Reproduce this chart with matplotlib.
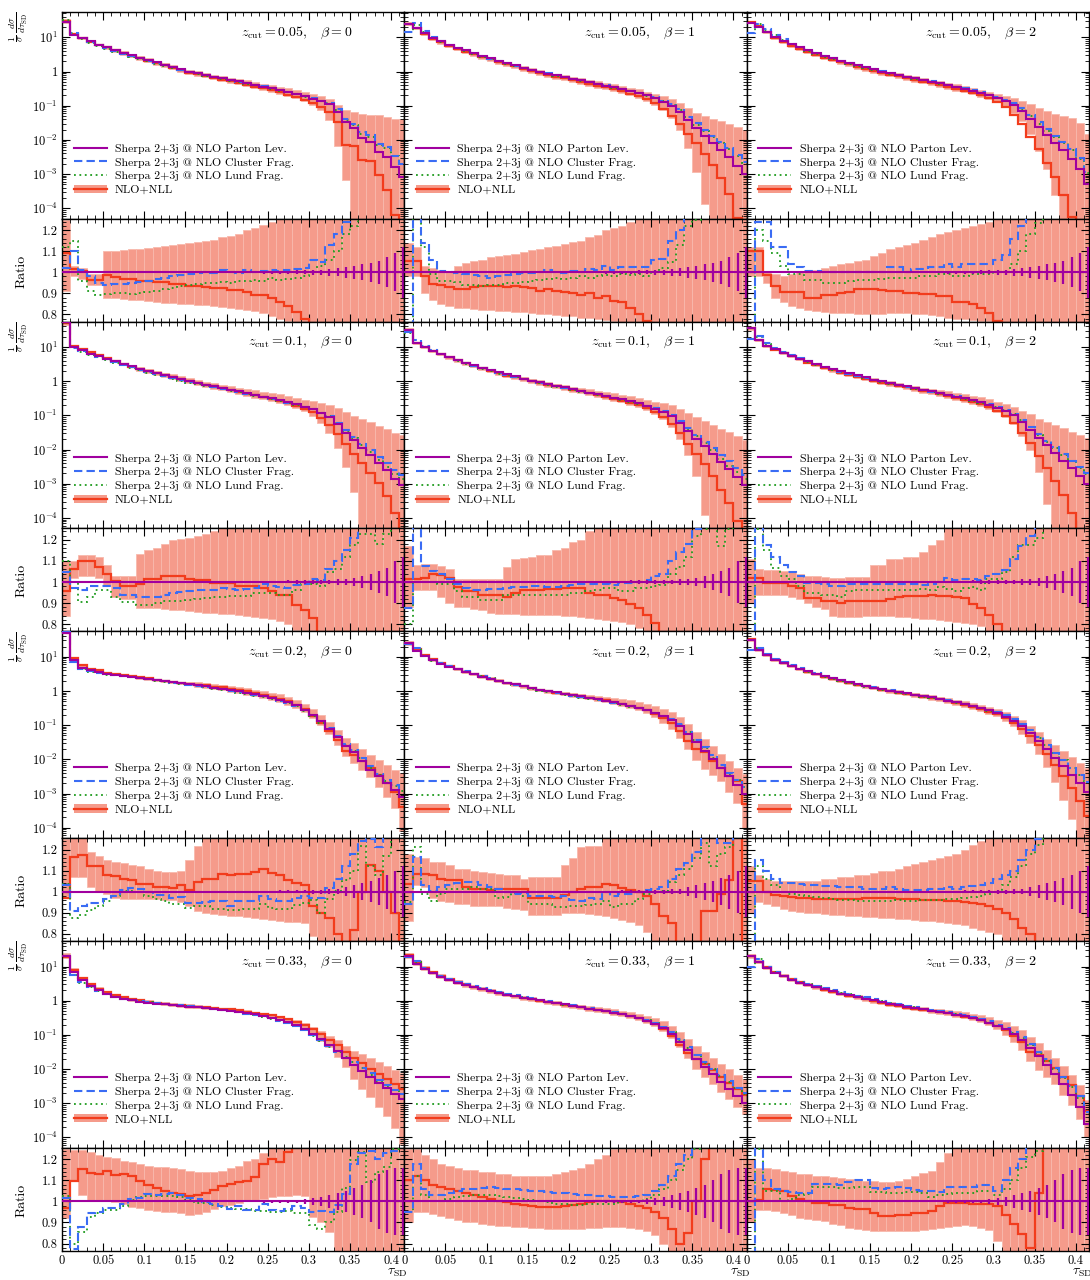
# Soft-drop tau_SD distributions: Sherpa vs NLO+NLL, 4 z_cut rows x 3 beta columns

import matplotlib.pyplot as plt
import numpy as np
from matplotlib.ticker import MultipleLocator, LogLocator, NullFormatter
from matplotlib.lines import Line2D
from matplotlib.patches import Patch

plt.rcParams['mathtext.fontset'] = 'cm'
plt.rcParams['font.family'] = ['cmr10', 'DejaVu Serif']
plt.rcParams['axes.formatter.use_mathtext'] = True

z_cuts = ["0.05", "0.1", "0.2", "0.33"]
betas = ["0", "1", "2"]
edges = np.linspace(0.0, 0.42, 43)   # 0.01 wide bins

x_ticks = [0, 0.05, 0.1, 0.15, 0.2, 0.25, 0.3, 0.35, 0.4]
x_tick_labels = ["0", "0.05", "0.1", "0.15", "0.2", "0.25", "0.3", "0.35", "0.4"]
main_ticks = [1e1, 1, 1e-1, 1e-2, 1e-3, 1e-4]
main_tick_labels = [r"$10^{1}$", "1", r"$10^{-1}$", r"$10^{-2}$", r"$10^{-3}$", r"$10^{-4}$"]
ratio_ticks = [0.8, 0.9, 1.0, 1.1, 1.2]
ratio_tick_labels = ["0.8", "0.9", "1", "1.1", "1.2"]

# ---- z_cut = 0.05 ----  (parton level as log10, others as ratio to parton level)
parton_005 = [
    [1.45, 1.08, 0.97, 0.88, 0.79, 0.71, 0.63, 0.55, 0.48, 0.41,
     0.34, 0.27, 0.20, 0.13, 0.06, 0.00, -0.05, -0.10, -0.15, -0.20,
     -0.25, -0.29, -0.34, -0.39, -0.44, -0.49, -0.54, -0.60, -0.66, -0.73,
     -0.80, -0.87, -0.96, -1.18, -1.48, -1.66, -1.95, -2.07, -2.35, -2.50,
     -2.80, -3.10],
    [1.38, 1.26, 1.12, 0.99, 0.88, 0.79, 0.70, 0.62, 0.54, 0.46,
     0.39, 0.32, 0.25, 0.18, 0.11, 0.05, -0.01, -0.06, -0.11, -0.16,
     -0.21, -0.26, -0.31, -0.36, -0.41, -0.46, -0.51, -0.57, -0.63, -0.70,
     -0.78, -0.88, -1.00, -1.18, -1.42, -1.65, -1.88, -2.08, -2.30, -2.50,
     -2.75, -3.00],
    [1.42, 1.30, 1.16, 1.02, 0.90, 0.80, 0.71, 0.62, 0.54, 0.46,
     0.39, 0.32, 0.25, 0.18, 0.12, 0.06, 0.00, -0.05, -0.10, -0.15,
     -0.20, -0.25, -0.30, -0.35, -0.40, -0.45, -0.50, -0.56, -0.62, -0.69,
     -0.77, -0.86, -0.98, -1.15, -1.38, -1.62, -1.86, -2.08, -2.30, -2.55,
     -2.85, -3.30],
]
cluster_005 = [
    [1.02, 1.10, 1.01, 0.98, 0.95, 0.94, 0.945, 0.945, 0.95, 0.955,
     0.96, 0.97, 0.975, 0.98, 0.985, 0.99, 0.995, 1.0, 0.995, 1.01,
     1.0, 0.995, 1.01, 1.0, 1.005, 1.01, 1.005, 1.01, 1.015, 1.02,
     1.057, 1.05, 1.13, 1.18, 1.24, 1.35, 1.5, 1.6, 1.7, 1.9,
     2.2, 2.4],
    [0.6, 1.4, 1.14, 1.06, 1.005, 1.0, 0.995, 0.99, 0.985, 0.98,
     0.975, 0.98, 0.985, 0.99, 0.995, 0.995, 1.0, 1.01, 1.0, 0.995,
     1.005, 1.0, 1.015, 1.01, 1.03, 1.01, 1.025, 1.025, 1.025, 1.025,
     1.06, 1.065, 1.15, 1.2, 1.27, 1.35, 1.45, 1.55, 1.7, 1.85,
     2.0, 2.2],
    [0.5, 1.24, 1.24, 1.12, 1.12, 1.04, 1.025, 1.008, 1.008, 1.0,
     1.0, 1.0, 1.003, 1.003, 1.003, 1.003, 1.003, 1.025, 1.025, 1.003,
     1.015, 1.015, 1.025, 1.025, 1.04, 1.025, 1.037, 1.037, 1.037, 1.037,
     1.06, 1.08, 1.16, 1.22, 1.3, 1.4, 1.5, 1.6, 1.75, 1.9,
     2.1, 2.3],
]
lund_005 = [
    [1.12, 1.15, 0.96, 0.91, 0.89, 0.895, 0.9, 0.9, 0.895, 0.9,
     0.905, 0.91, 0.92, 0.925, 0.935, 0.94, 0.945, 0.95, 0.95, 0.955,
     0.95, 0.96, 0.96, 0.965, 0.96, 0.975, 0.965, 0.97, 0.975, 0.98,
     1.0, 1.03, 1.06, 1.1, 1.18, 1.22, 1.3, 1.45, 1.6, 1.8,
     2.1, 2.4],
    [0.6, 1.3, 1.12, 0.99, 0.96, 0.96, 0.955, 0.94, 0.94, 0.935,
     0.94, 0.94, 0.95, 0.95, 0.955, 0.96, 0.965, 0.97, 0.975, 0.97,
     0.975, 0.98, 0.975, 0.98, 0.985, 0.98, 0.99, 0.985, 0.99, 0.98,
     1.0, 1.02, 1.05, 1.13, 1.22, 1.25, 1.35, 1.45, 1.6, 1.75,
     1.9, 2.1],
    [0.5, 1.2, 1.15, 1.09, 1.03, 0.99, 0.99, 0.965, 0.965, 0.95,
     0.95, 0.95, 0.96, 0.965, 0.965, 0.965, 0.97, 0.975, 0.975, 0.975,
     0.975, 0.98, 0.98, 0.99, 0.99, 0.98, 0.98, 0.99, 0.99, 0.99,
     1.0, 1.0, 1.04, 1.1, 1.18, 1.235, 1.35, 1.45, 1.6, 1.75,
     1.9, 2.1],
]
nll_005 = [
    [1.09, 1.016, 1.008, 0.964, 0.964, 0.987, 0.976, 0.97, 0.97, 0.96,
     0.96, 0.955, 0.955, 0.943, 0.943, 0.935, 0.935, 0.93, 0.927, 0.925,
     0.915, 0.915, 0.905, 0.89, 0.89, 0.88, 0.86, 0.84, 0.81, 0.78,
     0.74, 0.68, 0.6, 0.5, 0.21, 0.3, 0.23, 0.29, 0.21, 0.11,
     0.04, 0.01],
    [1.055, 1.055, 0.98, 0.943, 0.94, 0.93, 0.922, 0.92, 0.93, 0.935,
     0.935, 0.935, 0.93, 0.935, 0.93, 0.925, 0.91, 0.92, 0.91, 0.905,
     0.9, 0.89, 0.9, 0.878, 0.885, 0.865, 0.857, 0.83, 0.8, 0.77,
     0.7, 0.6, 0.5, 0.45, 0.4, 0.35, 0.3, 0.22, 0.15, 0.08,
     0.03, 0.01],
    [1.1, 1.1, 0.987, 0.935, 0.905, 0.905, 0.905, 0.878, 0.878, 0.89,
     0.89, 0.9, 0.905, 0.92, 0.92, 0.92, 0.915, 0.91, 0.91, 0.9,
     0.9, 0.895, 0.895, 0.886, 0.886, 0.86, 0.86, 0.85, 0.83, 0.805,
     0.77, 0.65, 0.5, 0.4, 0.3, 0.22, 0.15, 0.1, 0.05, 0.02,
     0.008, 0.004],
]
lo_005 = [
    [0.91, 0.98, 0.97, 0.94, 0.94, 0.88, 0.88, 0.875, 0.87, 0.87,
     0.865, 0.86, 0.855, 0.855, 0.85, 0.85, 0.845, 0.845, 0.84, 0.835,
     0.83, 0.825, 0.82, 0.815, 0.805, 0.79, 0.78, 0.77, 0.75, 0.72,
     0.68, 0.55, 0.35, 0.1, 0.02, 0.001, 0.001, 0.001, 0.001, 0.001,
     0.001, 0.001],
    [0.98, 0.98, 0.9, 0.87, 0.85, 0.84, 0.83, 0.83, 0.825, 0.82,
     0.82, 0.815, 0.815, 0.81, 0.81, 0.805, 0.8, 0.8, 0.795, 0.79,
     0.79, 0.785, 0.785, 0.78, 0.775, 0.77, 0.76, 0.74, 0.72, 0.68,
     0.62, 0.55, 0.45, 0.3, 0.15, 0.05, 0.01, 0.001, 0.001, 0.001,
     0.001, 0.001],
    [0.98, 0.98, 0.95, 0.88, 0.86, 0.84, 0.83, 0.82, 0.815, 0.81,
     0.805, 0.805, 0.805, 0.8, 0.8, 0.8, 0.8, 0.805, 0.805, 0.805,
     0.8, 0.8, 0.795, 0.79, 0.785, 0.78, 0.78, 0.775, 0.77, 0.77,
     0.74, 0.68, 0.6, 0.5, 0.35, 0.2, 0.1, 0.03, 0.005, 0.001,
     0.001, 0.001],
]
hi_005 = [
    [1.25, 1.03, 1.02, 0.99, 0.99, 1.1, 1.1, 1.105, 1.11, 1.11,
     1.115, 1.12, 1.125, 1.13, 1.135, 1.14, 1.145, 1.15, 1.155, 1.165,
     1.17, 1.18, 1.2, 1.21, 1.225, 1.24, 1.26, 1.28, 1.3, 1.33,
     1.37, 1.42, 1.48, 1.55, 2.2, 2.9, 5.2, 6.3, 12, 15,
     26, 52],
    [1.14, 1.12, 1.03, 1.02, 1.01, 1.0, 1.03, 1.045, 1.055, 1.06,
     1.07, 1.075, 1.08, 1.085, 1.095, 1.105, 1.11, 1.12, 1.125, 1.135,
     1.145, 1.15, 1.165, 1.175, 1.2, 1.21, 1.22, 1.24, 1.27, 1.3,
     1.35, 1.45, 1.6, 1.8, 2.2, 2.8, 3.8, 5, 7, 9,
     13, 20],
    [1.12, 1.12, 1.0, 0.99, 0.98, 0.99, 1.0, 1.005, 1.01, 1.02,
     1.03, 1.04, 1.045, 1.055, 1.06, 1.075, 1.09, 1.11, 1.12, 1.13,
     1.14, 1.155, 1.165, 1.18, 1.19, 1.2, 1.21, 1.22, 1.23, 1.24,
     1.3, 1.4, 1.6, 2.0, 2.6, 3.5, 5, 7, 10, 15,
     22, 30],
]
err_005 = [0.003, 0.003, 0.003, 0.003, 0.003, 0.003, 0.003, 0.003, 0.003, 0.003,
           0.003, 0.003, 0.003, 0.003, 0.003, 0.003, 0.003, 0.004, 0.004, 0.004,
           0.004, 0.005, 0.005, 0.005, 0.006, 0.006, 0.007, 0.008, 0.009, 0.01,
           0.011, 0.013, 0.016, 0.02, 0.025, 0.03, 0.037, 0.045, 0.055, 0.07,
           0.09, 0.12]

# ---- z_cut = 0.1 ----
parton_01 = [
    [1.72, 1.00, 0.90, 0.81, 0.73, 0.65, 0.58, 0.51, 0.44, 0.37,
     0.30, 0.24, 0.18, 0.12, 0.06, 0.00, -0.05, -0.10, -0.15, -0.20,
     -0.25, -0.30, -0.35, -0.40, -0.45, -0.50, -0.55, -0.61, -0.67, -0.74,
     -0.82, -0.92, -1.05, -1.25, -1.50, -1.72, -1.95, -2.15, -2.38, -2.60,
     -2.85, -3.05],
    [1.50, 1.12, 0.99, 0.88, 0.79, 0.70, 0.62, 0.54, 0.47, 0.40,
     0.33, 0.26, 0.20, 0.14, 0.08, 0.02, -0.03, -0.08, -0.13, -0.18,
     -0.23, -0.28, -0.33, -0.38, -0.43, -0.48, -0.53, -0.59, -0.65, -0.72,
     -0.80, -0.90, -1.03, -1.22, -1.45, -1.68, -1.90, -2.12, -2.35, -2.57,
     -2.80, -3.05],
    [1.55, 1.20, 1.04, 0.93, 0.83, 0.74, 0.66, 0.58, 0.50, 0.43,
     0.36, 0.29, 0.23, 0.17, 0.11, 0.05, 0.00, -0.05, -0.10, -0.15,
     -0.20, -0.25, -0.30, -0.35, -0.40, -0.45, -0.50, -0.56, -0.62, -0.69,
     -0.77, -0.87, -1.00, -1.20, -1.42, -1.65, -1.88, -2.10, -2.32, -2.55,
     -2.78, -3.00],
]
cluster_01 = [
    [1.045, 0.97, 0.96, 0.98, 0.98, 0.98, 0.97, 0.94, 0.94, 0.93,
     0.927, 0.927, 0.937, 0.948, 0.952, 0.956, 0.964, 0.964, 0.962, 0.972,
     0.965, 0.962, 0.965, 0.972, 0.99, 0.982, 0.975, 0.972, 0.985, 0.99,
     1.013, 1.01, 1.06, 1.1, 1.15, 1.21, 1.3, 1.4, 1.5, 1.6,
     1.8, 2.0],
    [0.875, 1.26, 1.075, 1.054, 1.037, 1.016, 0.989, 0.972, 0.964, 0.964,
     0.966, 0.968, 0.972, 0.976, 0.978, 0.98, 0.98, 0.975, 0.978, 0.98,
     0.985, 0.99, 0.99, 0.992, 0.99, 0.985, 0.995, 0.995, 1.0, 1.01,
     1.03, 1.037, 1.1, 1.14, 1.18, 1.25, 1.35, 1.45, 1.55, 1.7,
     1.85, 2.0],
    [0.5, 1.3, 1.175, 1.12, 1.08, 1.045, 1.03, 0.997, 0.997, 0.99,
     0.98, 0.98, 0.99, 0.99, 0.99, 0.99, 0.99, 0.99, 0.99, 0.99,
     0.99, 0.985, 0.99, 1.0, 1.02, 1.01, 1.016, 1.016, 1.01, 1.03,
     1.037, 1.057, 1.11, 1.17, 1.22, 1.3, 1.4, 1.5, 1.6, 1.7,
     1.85, 2.0],
]
lund_01 = [
    [1.1, 1.0, 0.907, 0.93, 0.96, 0.96, 0.927, 0.907, 0.907, 0.89,
     0.89, 0.9, 0.912, 0.912, 0.912, 0.915, 0.92, 0.925, 0.93, 0.93,
     0.935, 0.935, 0.935, 0.95, 0.95, 0.95, 0.94, 0.94, 0.96, 0.99,
     0.99, 0.98, 1.045, 1.06, 1.12, 1.175, 1.23, 1.23, 1.18, 1.23,
     1.4, 1.6],
    [0.8, 1.0, 1.0, 1.0, 0.99, 0.99, 0.956, 0.93, 0.93, 0.915,
     0.915, 0.915, 0.94, 0.94, 0.94, 0.94, 0.94, 0.94, 0.94, 0.94,
     0.948, 0.948, 0.955, 0.96, 0.97, 0.97, 0.956, 0.956, 0.97, 0.97,
     0.98, 0.985, 1.037, 1.07, 1.12, 1.22, 1.25, 1.3, 1.17, 1.25,
     1.4, 1.6],
    [0.5, 1.25, 1.15, 1.065, 1.03, 1.013, 0.98, 0.948, 0.948, 0.94,
     0.94, 0.93, 0.956, 0.96, 0.96, 0.96, 0.96, 0.96, 0.962, 0.964,
     0.964, 0.966, 0.964, 0.975, 0.965, 0.956, 0.972, 0.975, 0.964, 1.013,
     1.015, 1.045, 1.12, 1.175, 1.175, 1.21, 1.3, 1.4, 1.5, 1.6,
     1.75, 1.9],
]
nll_01 = [
    [0.955, 1.06, 1.1, 1.1, 1.07, 1.037, 1.005, 0.98, 0.98, 0.99,
     1.016, 1.016, 1.03, 1.03, 1.03, 1.013, 1.01, 1.01, 0.997, 0.997,
     0.997, 0.98, 0.98, 0.98, 0.972, 0.956, 0.94, 0.94, 0.89, 0.867,
     0.83, 0.7, 0.6, 0.5, 0.45, 0.4, 0.35, 0.3, 0.25, 0.18,
     0.1, 0.05],
    [1.013, 1.013, 1.02, 1.037, 1.035, 1.02, 0.977, 0.956, 0.956, 0.94,
     0.94, 0.94, 0.928, 0.95, 0.96, 0.96, 0.962, 0.965, 0.967, 0.97,
     0.972, 0.972, 0.95, 0.94, 0.94, 0.924, 0.915, 0.896, 0.875, 0.842,
     0.805, 0.7, 0.6, 0.5, 0.42, 0.35, 0.3, 0.22, 0.15, 0.1,
     0.05, 0.02],
    [1.02, 1.02, 0.993, 0.993, 0.993, 0.98, 0.972, 0.924, 0.924, 0.912,
     0.912, 0.9, 0.912, 0.912, 0.912, 0.912, 0.912, 0.92, 0.928, 0.935,
     0.935, 0.935, 0.94, 0.935, 0.932, 0.928, 0.924, 0.896, 0.875, 0.842,
     0.8, 0.7, 0.6, 0.5, 0.4, 0.3, 0.22, 0.15, 0.1, 0.05,
     0.02, 0.008],
]
lo_01 = [
    [0.84, 1.02, 1.03, 1.03, 1.02, 0.98, 0.93, 0.92, 0.92, 0.875,
     0.875, 0.875, 0.87, 0.867, 0.865, 0.862, 0.858, 0.855, 0.852, 0.85,
     0.847, 0.843, 0.84, 0.836, 0.83, 0.825, 0.815, 0.8, 0.77, 0.72,
     0.65, 0.5, 0.35, 0.2, 0.1, 0.03, 0.005, 0.001, 0.001, 0.001,
     0.001, 0.001],
    [0.88, 0.96, 0.964, 0.964, 0.93, 0.9, 0.88, 0.88, 0.87, 0.865,
     0.855, 0.85, 0.848, 0.846, 0.845, 0.844, 0.843, 0.842, 0.842, 0.84,
     0.838, 0.835, 0.83, 0.825, 0.82, 0.815, 0.81, 0.8, 0.78, 0.75,
     0.7, 0.62, 0.5, 0.35, 0.2, 0.08, 0.01, 0.001, 0.001, 0.001,
     0.001, 0.001],
    [0.9, 0.94, 0.94, 0.94, 0.94, 0.93, 0.92, 0.9, 0.88, 0.87,
     0.84, 0.835, 0.834, 0.834, 0.84, 0.84, 0.84, 0.838, 0.835, 0.832,
     0.828, 0.825, 0.822, 0.82, 0.815, 0.81, 0.805, 0.8, 0.79, 0.76,
     0.72, 0.65, 0.55, 0.4, 0.25, 0.1, 0.02, 0.001, 0.001, 0.001,
     0.001, 0.001],
]
hi_01 = [
    [1.1, 1.1, 1.13, 1.13, 1.12, 1.08, 1.03, 1.03, 1.03, 1.135,
     1.15, 1.16, 1.18, 1.2, 1.205, 1.21, 1.22, 1.23, 1.24, 1.26,
     1.28, 1.3, 1.32, 1.35, 1.38, 1.42, 1.46, 1.5, 1.55, 1.6,
     1.7, 1.9, 2.3, 3, 4, 5, 7, 9, 12, 16,
     22, 30],
    [1.17, 1.08, 1.086, 1.086, 1.075, 1.06, 1.013, 1.013, 1.013, 1.013,
     1.013, 1.013, 1.07, 1.11, 1.115, 1.12, 1.127, 1.13, 1.15, 1.16,
     1.19, 1.2, 1.24, 1.27, 1.3, 1.33, 1.36, 1.4, 1.45, 1.5,
     1.6, 1.8, 2.1, 2.6, 3.3, 4.2, 5.5, 7, 9, 12,
     16, 22],
    [1.11, 1.06, 1.057, 1.057, 1.05, 1.045, 1.04, 1.03, 1.03, 1.025,
     1.02, 1.02, 1.025, 1.025, 1.025, 1.08, 1.08, 1.11, 1.11, 1.12,
     1.12, 1.14, 1.175, 1.2, 1.26, 1.3, 1.33, 1.36, 1.4, 1.45,
     1.5, 1.6, 1.8, 2.2, 2.8, 3.6, 4.8, 6.5, 9, 12,
     16, 22],
]
err_01 = [0.003, 0.003, 0.003, 0.003, 0.003, 0.003, 0.003, 0.003, 0.003, 0.003,
          0.003, 0.003, 0.003, 0.003, 0.003, 0.003, 0.003, 0.003, 0.003, 0.003,
          0.004, 0.004, 0.005, 0.005, 0.005, 0.006, 0.006, 0.007, 0.008, 0.009,
          0.01, 0.01, 0.011, 0.012, 0.014, 0.018, 0.03, 0.04, 0.05, 0.065,
          0.1, 0.12]

# ---- z_cut = 0.2 ----
parton_02 = [
    [1.70, 0.90, 0.68, 0.60, 0.55, 0.50, 0.47, 0.44, 0.41, 0.38,
     0.35, 0.32, 0.29, 0.26, 0.23, 0.20, 0.17, 0.14, 0.10, 0.07,
     0.03, -0.01, -0.05, -0.10, -0.15, -0.20, -0.26, -0.33, -0.42, -0.55,
     -0.70, -0.88, -1.10, -1.35, -1.60, -1.80, -2.05, -2.30, -2.50, -2.70,
     -2.90, -3.10],
    [1.40, 1.18, 1.02, 0.90, 0.80, 0.71, 0.63, 0.56, 0.49, 0.42,
     0.36, 0.30, 0.24, 0.19, 0.14, 0.09, 0.04, 0.00, -0.04, -0.08,
     -0.12, -0.16, -0.20, -0.24, -0.28, -0.33, -0.38, -0.43, -0.49, -0.56,
     -0.64, -0.74, -0.86, -1.02, -1.25, -1.50, -1.75, -2.00, -2.25, -2.50,
     -2.75, -3.00],
    [1.50, 1.20, 1.04, 0.92, 0.82, 0.73, 0.65, 0.57, 0.50, 0.43,
     0.37, 0.31, 0.25, 0.20, 0.15, 0.10, 0.05, 0.01, -0.03, -0.07,
     -0.11, -0.15, -0.19, -0.23, -0.28, -0.33, -0.38, -0.44, -0.50, -0.57,
     -0.65, -0.75, -0.87, -1.03, -1.22, -1.45, -1.70, -1.95, -2.20, -2.45,
     -2.70, -2.95],
]
cluster_02 = [
    [1.03, 0.91, 0.93, 0.948, 0.948, 0.964, 0.98, 1.008, 1.018, 1.015,
     0.997, 0.985, 0.982, 0.972, 0.975, 0.948, 0.948, 0.95, 0.956, 0.956,
     0.93, 0.955, 0.955, 0.955, 0.98, 0.964, 0.956, 0.956, 0.972, 0.98,
     0.972, 0.972, 1.018, 1.062, 1.12, 1.18, 1.24, 1.25, 1.21, 1.26,
     1.4, 1.6],
    [0.94, 1.167, 1.03, 1.005, 1.02, 1.03, 1.04, 1.045, 1.045, 1.03,
     1.02, 1.013, 1.0, 0.99, 0.995, 0.98, 0.98, 0.98, 0.977, 0.98,
     0.96, 0.956, 0.97, 0.964, 0.997, 0.98, 0.989, 0.99, 1.0, 1.008,
     1.013, 1.02, 1.062, 1.11, 1.135, 1.19, 1.3, 1.35, 1.23, 1.23,
     1.4, 1.6],
    [0.5, 1.15, 1.1, 1.06, 1.04, 1.04, 1.035, 1.03, 1.03, 1.025,
     1.025, 1.02, 1.02, 1.02, 1.015, 1.015, 1.015, 1.02, 1.015, 1.01,
     1.01, 1.01, 1.015, 1.015, 1.02, 1.015, 1.02, 1.025, 1.03, 1.04,
     1.06, 1.08, 1.1, 1.15, 1.2, 1.25, 1.3, 1.4, 1.5, 1.6,
     1.8, 2.0],
]
lund_02 = [
    [1.037, 0.875, 0.89, 0.915, 0.93, 0.956, 0.98, 1.005, 1.005, 1.0,
     0.98, 0.965, 0.956, 0.94, 0.94, 0.924, 0.932, 0.93, 0.92, 0.92,
     0.915, 0.915, 0.92, 0.92, 0.94, 0.925, 0.92, 0.92, 0.935, 0.945,
     0.96, 0.9, 0.964, 1.005, 1.054, 1.1, 1.216, 1.12, 1.08, 1.17,
     1.35, 1.5],
    [0.95, 1.21, 0.99, 0.956, 0.99, 1.013, 1.013, 1.013, 1.02, 1.013,
     1.013, 0.972, 0.975, 0.995, 0.98, 0.94, 0.94, 0.94, 0.927, 0.927,
     0.93, 0.93, 0.935, 0.94, 0.956, 0.927, 0.94, 0.94, 0.965, 0.99,
     1.0, 1.005, 1.045, 1.078, 1.11, 1.16, 1.23, 1.12, 1.18, 1.21,
     1.4, 1.6],
    [0.5, 1.12, 1.06, 1.03, 1.0, 0.99, 0.985, 0.98, 0.975, 0.97,
     0.965, 0.96, 0.96, 0.955, 0.955, 0.955, 0.955, 0.955, 0.96, 0.955,
     0.955, 0.96, 0.96, 0.96, 0.965, 0.965, 0.97, 0.975, 0.98, 0.99,
     1.0, 1.03, 1.07, 1.12, 1.18, 1.22, 1.3, 1.4, 1.5, 1.6,
     1.75, 1.9],
]
nll_02 = [
    [0.97, 1.164, 1.175, 1.12, 1.12, 1.078, 1.073, 1.062, 1.055, 1.037,
     1.037, 1.024, 1.024, 1.018, 1.03, 1.008, 1.045, 1.062, 1.062, 1.086,
     1.078, 1.086, 1.086, 1.094, 1.11, 1.09, 1.078, 1.054, 1.04, 1.03,
     0.932, 0.9, 0.875, 0.8, 0.7, 0.82, 1.0, 1.127, 1.1, 1.0,
     0.9, 0.5],
    [1.037, 1.086, 1.086, 1.08, 1.062, 1.054, 1.054, 1.02, 1.013, 1.013,
     1.01, 1.013, 1.013, 1.013, 1.013, 0.972, 0.972, 0.972, 0.972, 0.985,
     1.0, 1.013, 1.02, 1.02, 1.037, 1.03, 1.018, 1.008, 1.0, 0.98,
     0.94, 0.883, 0.85, 0.72, 0.6, 0.65, 0.907, 0.907, 0.989, 1.054,
     1.3, 0.5],
    [1.05, 1.05, 1.0, 0.985, 0.98, 0.975, 0.97, 0.97, 0.965, 0.965,
     0.965, 0.965, 0.965, 0.965, 0.97, 0.97, 0.97, 0.97, 0.965, 0.965,
     0.965, 0.96, 0.96, 0.96, 0.955, 0.955, 0.95, 0.945, 0.94, 0.93,
     0.92, 0.9, 0.87, 0.83, 0.8, 0.75, 0.7, 0.6, 0.5, 0.4,
     0.3, 0.2],
]
lo_02 = [
    [0.98, 1.07, 1.07, 1.02, 1.0, 0.99, 0.972, 0.965, 0.965, 0.965,
     0.965, 0.965, 0.962, 0.96, 0.95, 0.93, 0.91, 0.9, 0.895, 0.89,
     0.885, 0.883, 0.88, 0.875, 0.87, 0.867, 0.862, 0.858, 0.855, 0.85,
     0.79, 0.75, 0.7, 0.6, 0.5, 0.5, 0.55, 0.6, 0.5, 0.4,
     0.3, 0.1],
    [0.86, 1.03, 1.02, 0.972, 0.956, 0.95, 0.94, 0.94, 0.932, 0.932,
     0.932, 0.93, 0.925, 0.92, 0.915, 0.89, 0.89, 0.89, 0.89, 0.9,
     0.9, 0.9, 0.895, 0.89, 0.883, 0.875, 0.867, 0.855, 0.842, 0.81,
     0.75, 0.65, 0.55, 0.45, 0.35, 0.3, 0.3, 0.35, 0.4, 0.35,
     0.3, 0.1],
    [0.9, 0.95, 0.94, 0.93, 0.92, 0.91, 0.905, 0.9, 0.9, 0.895,
     0.89, 0.89, 0.885, 0.885, 0.88, 0.88, 0.875, 0.875, 0.87, 0.87,
     0.865, 0.86, 0.86, 0.855, 0.85, 0.845, 0.84, 0.83, 0.82, 0.81,
     0.8, 0.75, 0.7, 0.6, 0.5, 0.4, 0.3, 0.2, 0.1, 0.05,
     0.01, 0.001],
]
hi_02 = [
    [1.25, 1.27, 1.27, 1.19, 1.17, 1.15, 1.14, 1.135, 1.125, 1.12,
     1.11, 1.1, 1.095, 1.094, 1.1, 1.15, 1.216, 1.26, 1.28, 1.3,
     1.32, 1.34, 1.36, 1.38, 1.4, 1.42, 1.44, 1.46, 1.48, 1.5,
     1.5, 1.5, 1.55, 1.6, 1.7, 1.9, 2.2, 2.6, 3, 3.5,
     4, 5],
    [1.18, 1.165, 1.16, 1.143, 1.14, 1.127, 1.11, 1.11, 1.1, 1.094,
     1.09, 1.086, 1.08, 1.078, 1.062, 1.07, 1.07, 1.07, 1.07, 1.127,
     1.16, 1.21, 1.216, 1.216, 1.3, 1.35, 1.4, 1.45, 1.5, 1.55,
     1.6, 1.65, 1.7, 1.8, 1.9, 2.0, 2.2, 2.4, 2.6, 2.8,
     3.2, 3.6],
    [1.12, 1.08, 1.06, 1.05, 1.05, 1.05, 1.05, 1.05, 1.05, 1.06,
     1.06, 1.07, 1.07, 1.08, 1.08, 1.09, 1.1, 1.1, 1.11, 1.12,
     1.13, 1.14, 1.15, 1.16, 1.17, 1.18, 1.2, 1.22, 1.24, 1.27,
     1.3, 1.35, 1.4, 1.5, 1.6, 1.8, 2.0, 2.4, 2.8, 3.3,
     4, 5],
]
err_02 = [0.003, 0.003, 0.003, 0.003, 0.003, 0.003, 0.003, 0.003, 0.003, 0.003,
          0.003, 0.003, 0.003, 0.003, 0.003, 0.003, 0.003, 0.003, 0.003, 0.003,
          0.004, 0.004, 0.004, 0.005, 0.005, 0.005, 0.006, 0.006, 0.007, 0.008,
          0.009, 0.01, 0.011, 0.012, 0.02, 0.03, 0.04, 0.05, 0.065, 0.08,
          0.1, 0.12]

# ---- z_cut = 0.33 ----
parton_033 = [
    [1.30, 0.85, 0.60, 0.42, 0.30, 0.20, 0.12, 0.06, 0.01, -0.03,
     -0.06, -0.09, -0.11, -0.13, -0.15, -0.17, -0.19, -0.21, -0.23, -0.26,
     -0.29, -0.32, -0.36, -0.40, -0.45, -0.50, -0.56, -0.63, -0.72, -0.83,
     -0.97, -1.13, -1.30, -1.48, -1.68, -1.88, -2.05, -2.22, -2.40, -2.55,
     -2.72, -2.88],
    [1.30, 1.08, 0.92, 0.80, 0.70, 0.61, 0.53, 0.46, 0.40, 0.34,
     0.28, 0.23, 0.18, 0.13, 0.09, 0.05, 0.01, -0.03, -0.07, -0.11,
     -0.15, -0.19, -0.23, -0.27, -0.31, -0.35, -0.40, -0.45, -0.51, -0.58,
     -0.67, -0.80, -0.97, -1.20, -1.45, -1.70, -1.93, -2.15, -2.37, -2.58,
     -2.80, -3.00],
    [1.30, 1.12, 0.95, 0.82, 0.71, 0.61, 0.53, 0.46, 0.39, 0.33,
     0.27, 0.21, 0.16, 0.11, 0.06, 0.01, -0.04, -0.09, -0.13, -0.17,
     -0.21, -0.25, -0.29, -0.33, -0.37, -0.41, -0.46, -0.51, -0.57, -0.64,
     -0.73, -0.84, -0.98, -1.15, -1.38, -1.62, -1.88, -2.15, -2.45, -2.75,
     -3.10, -3.60],
]
cluster_033 = [
    [1.016, 0.772, 0.878, 0.946, 0.95, 0.97, 0.97, 0.987, 1.011, 1.016,
     1.036, 1.03, 1.036, 1.04, 1.03, 1.016, 1.01, 0.997, 0.99, 0.98,
     0.963, 0.98, 0.96, 0.96, 0.987, 0.96, 0.955, 0.965, 0.976, 0.967,
     0.95, 0.955, 0.95, 0.984, 1.033, 1.18, 1.228, 1.24, 1.2, 1.228,
     1.24, 1.4],
    [0.95, 1.18, 1.06, 1.03, 1.03, 1.04, 1.05, 1.06, 1.06, 1.065,
     1.07, 1.065, 1.06, 1.06, 1.055, 1.05, 1.05, 1.045, 1.04, 1.04,
     1.035, 1.03, 1.03, 1.025, 1.025, 1.02, 1.02, 1.02, 1.025, 1.03,
     1.05, 1.08, 1.12, 1.18, 1.22, 1.28, 1.35, 1.45, 1.55, 1.65,
     1.8, 2.0],
    [0.5, 1.3, 1.1, 1.057, 1.05, 1.045, 1.04, 1.04, 1.085, 1.085,
     1.085, 1.08, 1.09, 1.1, 1.1, 1.065, 1.06, 1.063, 1.07, 1.063,
     1.055, 1.05, 1.05, 1.045, 1.07, 1.07, 1.07, 1.07, 1.08, 1.08,
     1.05, 1.1, 1.16, 1.2, 1.26, 1.35, 1.45, 1.55, 1.7, 1.85,
     2.0, 2.2],
]
lund_033 = [
    [1.024, 0.8, 0.854, 0.927, 0.943, 0.96, 0.96, 0.976, 1.008, 1.02,
     1.024, 1.024, 1.024, 1.024, 1.02, 1.008, 0.992, 0.992, 0.985, 0.975,
     0.967, 0.965, 0.963, 0.955, 0.955, 0.95, 0.948, 0.955, 0.945, 0.943,
     0.886, 0.87, 0.9, 0.95, 1.065, 1.195, 1.236, 1.09, 1.138, 1.163,
     1.25, 1.4],
    [0.95, 1.12, 1.03, 1.0, 1.0, 1.01, 1.02, 1.025, 1.03, 1.03,
     1.03, 1.025, 1.02, 1.015, 1.01, 1.005, 1.0, 0.995, 0.99, 0.99,
     0.985, 0.985, 0.99, 0.99, 0.99, 0.99, 0.995, 1.0, 1.0, 1.01,
     1.03, 1.06, 1.1, 1.15, 1.2, 1.25, 1.3, 1.4, 1.5, 1.6,
     1.75, 1.9],
    [0.5, 1.25, 1.05, 1.05, 1.0, 1.01, 1.03, 1.035, 1.07, 1.07,
     1.07, 1.065, 1.065, 1.07, 1.07, 1.045, 1.045, 1.04, 1.04, 1.045,
     1.045, 1.04, 1.02, 1.03, 1.035, 1.04, 1.04, 1.04, 1.05, 1.05,
     1.03, 1.06, 1.1, 1.16, 1.21, 1.24, 1.3, 1.4, 1.5, 1.65,
     1.8, 2.0],
]
nll_033 = [
    [0.967, 1.098, 1.154, 1.133, 1.13, 1.146, 1.125, 1.13, 1.122, 1.098,
     1.078, 1.065, 1.049, 1.04, 1.033, 1.024, 1.03, 1.04, 1.052, 1.073,
     1.081, 1.09, 1.098, 1.114, 1.18, 1.2, 1.187, 1.236, 1.27, 1.3,
     1.35, 1.4, 1.45, 1.5, 1.55, 1.6, 1.65, 1.7, 1.75, 1.8,
     1.9, 2.0],
    [1.1, 1.12, 1.1, 1.08, 1.07, 1.06, 1.05, 1.04, 1.03, 1.02,
     1.01, 1.0, 0.995, 0.99, 0.985, 0.98, 0.975, 0.975, 0.975, 0.98,
     0.985, 0.99, 0.995, 1.0, 1.0, 1.0, 0.995, 0.99, 0.98, 0.97,
     0.95, 0.92, 0.87, 0.8, 0.85, 1.0, 1.2, 1.3, 1.4, 1.5,
     1.6, 1.7],
    [1.0, 1.008, 1.057, 1.055, 1.05, 1.024, 1.011, 1.0, 0.992, 0.992,
     0.984, 0.984, 0.967, 0.964, 0.964, 0.943, 0.932, 0.932, 0.935, 0.935,
     0.943, 0.945, 0.955, 0.976, 0.992, 0.993, 0.993, 0.99, 0.99, 0.99,
     0.98, 0.935, 0.894, 0.846, 0.78, 1.04, 1.3, 1.5, 1.7, 1.9,
     2.1, 2.3],
]
lo_033 = [
    [0.92, 1.1, 1.03, 1.008, 1.008, 1.0, 0.995, 0.99, 0.975, 0.967,
     0.96, 0.955, 0.95, 0.948, 0.943, 0.935, 0.94, 0.95, 0.965, 0.976,
     0.985, 0.992, 1.0, 1.0, 1.01, 1.02, 1.024, 1.024, 1.03, 1.024,
     0.927, 0.9, 0.854, 0.7, 0.55, 0.4, 0.3, 0.25, 0.2, 0.15,
     0.1, 0.05],
    [0.9, 0.95, 0.95, 0.94, 0.93, 0.92, 0.91, 0.9, 0.9, 0.895,
     0.89, 0.885, 0.885, 0.88, 0.88, 0.875, 0.875, 0.87, 0.87, 0.87,
     0.87, 0.87, 0.875, 0.875, 0.88, 0.88, 0.88, 0.875, 0.87, 0.86,
     0.84, 0.8, 0.75, 0.7, 0.6, 0.5, 0.5, 0.5, 0.5, 0.5,
     0.5, 0.5],
    [0.9, 0.96, 0.96, 0.955, 0.943, 0.935, 0.92, 0.915, 0.91, 0.905,
     0.894, 0.89, 0.875, 0.87, 0.865, 0.862, 0.86, 0.858, 0.858, 0.86,
     0.862, 0.866, 0.87, 0.875, 0.878, 0.882, 0.886, 0.883, 0.875, 0.865,
     0.813, 0.7, 0.6, 0.5, 0.4, 0.4, 0.45, 0.5, 0.5, 0.5,
     0.45, 0.4],
]
hi_033 = [
    [1.25, 1.244, 1.244, 1.235, 1.22, 1.21, 1.205, 1.19, 1.187, 1.18,
     1.17, 1.165, 1.163, 1.158, 1.154, 1.145, 1.14, 1.138, 1.14, 1.146,
     1.16, 1.17, 1.19, 1.2, 1.228, 1.26, 1.3, 1.35, 1.4, 1.5,
     1.6, 1.75, 1.9, 2.1, 2.3, 2.6, 3, 3.5, 4, 4.5,
     5, 6],
    [1.25, 1.25, 1.22, 1.2, 1.18, 1.17, 1.16, 1.15, 1.15, 1.14,
     1.14, 1.13, 1.13, 1.12, 1.12, 1.12, 1.12, 1.12, 1.13, 1.14,
     1.15, 1.16, 1.18, 1.2, 1.22, 1.25, 1.28, 1.3, 1.35, 1.4,
     1.5, 1.6, 1.7, 1.9, 2.1, 2.4, 2.7, 3, 3.4, 3.8,
     4.2, 5],
    [1.2, 1.16, 1.16, 1.155, 1.146, 1.14, 1.13, 1.128, 1.122, 1.12,
     1.114, 1.11, 1.106, 1.102, 1.098, 1.095, 1.09, 1.09, 1.095, 1.105,
     1.122, 1.135, 1.146, 1.187, 1.228, 1.28, 1.32, 1.36, 1.4, 1.45,
     1.5, 1.6, 1.7, 1.9, 2.1, 2.4, 2.7, 3, 3.4, 3.8,
     4.2, 5],
]
err_033 = [0.003, 0.003, 0.003, 0.003, 0.003, 0.003, 0.003, 0.003, 0.003, 0.003,
           0.003, 0.003, 0.003, 0.003, 0.003, 0.003, 0.003, 0.003, 0.004, 0.004,
           0.004, 0.005, 0.005, 0.005, 0.006, 0.006, 0.007, 0.008, 0.009, 0.01,
           0.015, 0.02, 0.03, 0.04, 0.05, 0.065, 0.08, 0.1, 0.13, 0.15,
           0.16, 0.16]

rows = [
    (parton_005, cluster_005, lund_005, nll_005, lo_005, hi_005, err_005),
    (parton_01, cluster_01, lund_01, nll_01, lo_01, hi_01, err_01),
    (parton_02, cluster_02, lund_02, nll_02, lo_02, hi_02, err_02),
    (parton_033, cluster_033, lund_033, nll_033, lo_033, hi_033, err_033),
]

purple = '#a0009f'
blue = '#3a6cf4'
green = '#1e9b1e'
red = '#f23c1c'
band_c = '#f59b8b'
band_edge = '#f8b9ad'
labels = ["Sherpa 2+3j @ NLO Parton Lev.", "Sherpa 2+3j @ NLO Cluster Frag.",
          "Sherpa 2+3j @ NLO Lund Frag.", "NLO+NLL"]

centers = 0.5 * (edges[:-1] + edges[1:])


def style_axis(ax):
    ax.tick_params(which='both', direction='in', top=True, right=True,
                   labelsize=9, pad=3)
    ax.tick_params(which='major', length=6, width=0.8)
    ax.tick_params(which='minor', length=3, width=0.6)
    ax.xaxis.set_major_locator(MultipleLocator(0.05))
    ax.xaxis.set_minor_locator(MultipleLocator(0.01))
    for s in ax.spines.values():
        s.set_linewidth(1.0)


def draw_curves(ax, base, clus, lund, nll, lo, hi):
    ax.bar(centers, base * (hi - lo), bottom=base * lo, width=0.01,
           color=band_c, edgecolor=band_edge, linewidth=0.6, zorder=1)
    ax.stairs(base * nll, edges, baseline=None, color=red, lw=1.6, zorder=2)
    ax.stairs(base * lund, edges, baseline=None, color=green, lw=1.3,
              linestyle=(0, (1, 2)), zorder=3)
    ax.stairs(base * clus, edges, baseline=None, color=blue, lw=1.5,
              linestyle=(0, (4, 2)), zorder=4)
    ax.stairs(base, edges, baseline=None, color=purple, lw=1.5, zorder=5)


fig = plt.figure(figsize=(10.9, 12.8), dpi=100)
gs = fig.add_gridspec(8, 3, height_ratios=[2, 1] * 4, left=0.0569, right=0.999,
                      top=0.9906, bottom=0.0227, hspace=0, wspace=0)

for r, (p_log, clus_r, lund_r, nll_r, lo_r, hi_r, err) in enumerate(rows):
    for c in range(3):
        ax_m = fig.add_subplot(gs[2 * r, c])
        ax_r = fig.add_subplot(gs[2 * r + 1, c])
        parton = 10 ** np.array(p_log[c])
        clus = np.array(clus_r[c])
        lund = np.array(lund_r[c])
        nll = np.array(nll_r[c])
        lo = np.array(lo_r[c])
        hi = np.array(hi_r[c])
        e = np.array(err)

        # main panel
        draw_curves(ax_m, parton, clus, lund, nll, lo, hi)
        ax_m.set_yscale('log')
        ax_m.set_ylim(5e-5, 55)
        ax_m.set_xlim(0, 0.416)
        style_axis(ax_m)
        ax_m.yaxis.set_minor_locator(LogLocator(base=10, subs=np.arange(2, 10), numticks=20))
        ax_m.yaxis.set_minor_formatter(NullFormatter())
        ax_m.set_yticks(main_ticks, labels=main_tick_labels if c == 0 else [])
        ax_m.tick_params(labelbottom=False)
        ax_m.text(0.848, 0.9, r"$z_{\rm cut} = %s,\ \ \ \beta = %s$" % (z_cuts[r], betas[c]),
                  transform=ax_m.transAxes, ha='right', va='center', fontsize=10)

        handles = [Line2D([], [], color=purple, lw=1.5),
                   Line2D([], [], color=blue, lw=1.5, linestyle=(0, (4, 2))),
                   Line2D([], [], color=green, lw=1.3, linestyle=(0, (1, 2))),
                   (Patch(facecolor=band_c, edgecolor='none'), Line2D([], [], color=red, lw=1.6))]
        ax_m.legend(handles, labels, loc='lower left', bbox_to_anchor=(0.02, 0.09),
                    frameon=False, fontsize=8.5, handlelength=2.8, labelspacing=0.3,
                    handletextpad=0.7, borderaxespad=0)

        # ratio panel
        draw_curves(ax_r, parton / parton, clus, lund, nll, lo, hi)
        ax_r.vlines(centers, 1 - e, 1 + e, color=purple, lw=1.6, zorder=6)
        ax_r.set_ylim(0.765, 1.255)
        ax_r.set_xlim(0, 0.416)
        style_axis(ax_r)
        ax_r.yaxis.set_minor_locator(MultipleLocator(0.02))
        ax_r.set_yticks(ratio_ticks, labels=ratio_tick_labels if c == 0 else [])
        if r == 3:
            ax_r.set_xticks(x_ticks, labels=x_tick_labels)
            ax_r.set_xlabel(r"$\tau_{\rm SD}$", fontsize=10)
            ax_r.xaxis.set_label_coords(0.98, -0.15)
        else:
            ax_r.tick_params(labelbottom=False)

        if c == 0:
            ax_m.set_ylabel(r"$\frac{1}{\sigma}\,\frac{d\sigma}{d\tau_{\rm SD}}$",
                            loc='top', fontsize=10)
            ax_m.yaxis.set_label_coords(-0.095, 1.0)
            ax_r.set_ylabel("Ratio", fontsize=10)
            ax_r.yaxis.set_label_coords(-0.1, 0.49)

fig.savefig("out.png", dpi=100)
